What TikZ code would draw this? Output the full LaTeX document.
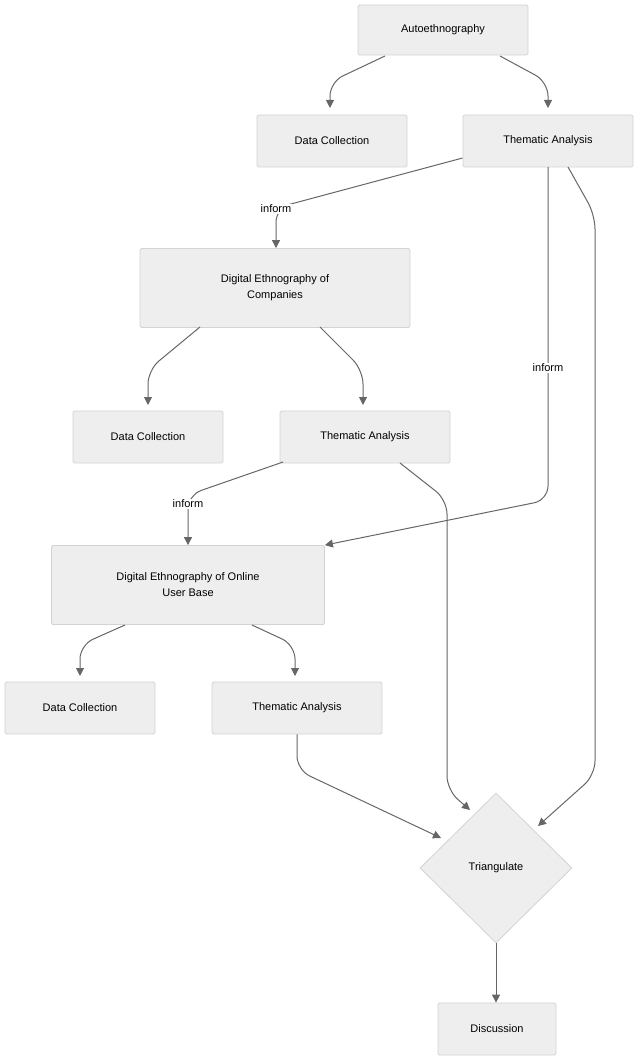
\documentclass[tikz,border=0pt]{standalone}
\usepackage{fontspec}
\setmainfont{Liberation Sans}
\usetikzlibrary{shapes.geometric,arrows.meta}
\definecolor{boxfill}{HTML}{EEEEEE}
\definecolor{boxline}{HTML}{D3D3D3}
\definecolor{edge}{HTML}{666666}
\begin{document}
\begin{tikzpicture}[x=1pt,y=-1pt,
  box/.style={draw=boxline,fill=boxfill,line width=0.8pt,rounded corners=1.5pt,align=center,inner sep=0pt,font=\fontsize{11}{16}\selectfont},
  dia/.style={draw=boxline,fill=boxfill,line width=0.8pt,diamond,minimum width=152pt,minimum height=150pt,inner sep=0pt,font=\fontsize{11}{16}\selectfont},
  conn/.style={draw=edge,line width=1pt,-{Triangle[length=8pt,width=8pt]},rounded corners=14pt},
  lab/.style={fill=white,inner sep=1pt,font=\fontsize{11}{13}\selectfont}]
\useasboundingbox (0,0) rectangle (640,1064);
\node[box,minimum width=170pt,minimum height=50pt] (auto) at (443,30) {Autoethnography};
\node[box,minimum width=150pt,minimum height=52pt] (dc1) at (332,141) {Data Collection};
\node[box,minimum width=170pt,minimum height=52pt] (ta1) at (548,141) {Thematic Analysis};
\node[box,minimum width=270pt,minimum height=79pt] (dec) at (275,288) {Digital Ethnography of\\Companies};
\node[box,minimum width=150pt,minimum height=52pt] (dc2) at (148,437) {Data Collection};
\node[box,minimum width=170pt,minimum height=52pt] (ta2) at (365,437) {Thematic Analysis};
\node[box,minimum width=273pt,minimum height=79pt] (deo) at (188,585) {Digital Ethnography of Online\\User Base};
\node[box,minimum width=150pt,minimum height=52pt] (dc3) at (80,708) {Data Collection};
\node[box,minimum width=170pt,minimum height=52pt] (ta3) at (297,708) {Thematic Analysis};
\node[dia] (tri) at (496,868) {Triangulate};
\node[box,minimum width=118pt,minimum height=52pt] (dis) at (497,1029) {Discussion};

\coordinate (a1) at (385,56); \coordinate (a2) at (500,56);
\draw[conn] (a1) -- (330,82) -- (330,108);
\draw[conn] (a2) -- (548,82) -- (548,108);
\draw[conn] (ta1.west |- 0,158) -- (276,208) -- (dec.north -| 276,0);
\node[lab] at (276,209) {inform};
\draw[conn] (548,167) -- (548,500) -- (deo.north east);
\node[lab] at (548,368) {inform};
\draw[conn] (568,167) -- (595,215) -- (595,775) -- (538,826);
\coordinate (d1) at (200,327); \coordinate (d2) at (320,327);
\draw[conn] (d1) -- (148,370) -- (148,405);
\draw[conn] (d2) -- (363,370) -- (363,405);
\draw[conn] (283,462) -- (188,495) -- (deo.north -| 188,0);
\node[lab] at (188,504) {inform};
\draw[conn] (400,463) -- (447,500) -- (447,790) -- (470,810);
\coordinate (e1) at (125,625); \coordinate (e2) at (252,625);
\draw[conn] (e1) -- (80,645) -- (80,676);
\draw[conn] (e2) -- (295,645) -- (295,676);
\draw[conn] (ta3.south) -- (297,770) -- (441,838);
\draw[conn] (tri.south) -- (dis.north -| tri.south);
\end{tikzpicture}
\end{document}
